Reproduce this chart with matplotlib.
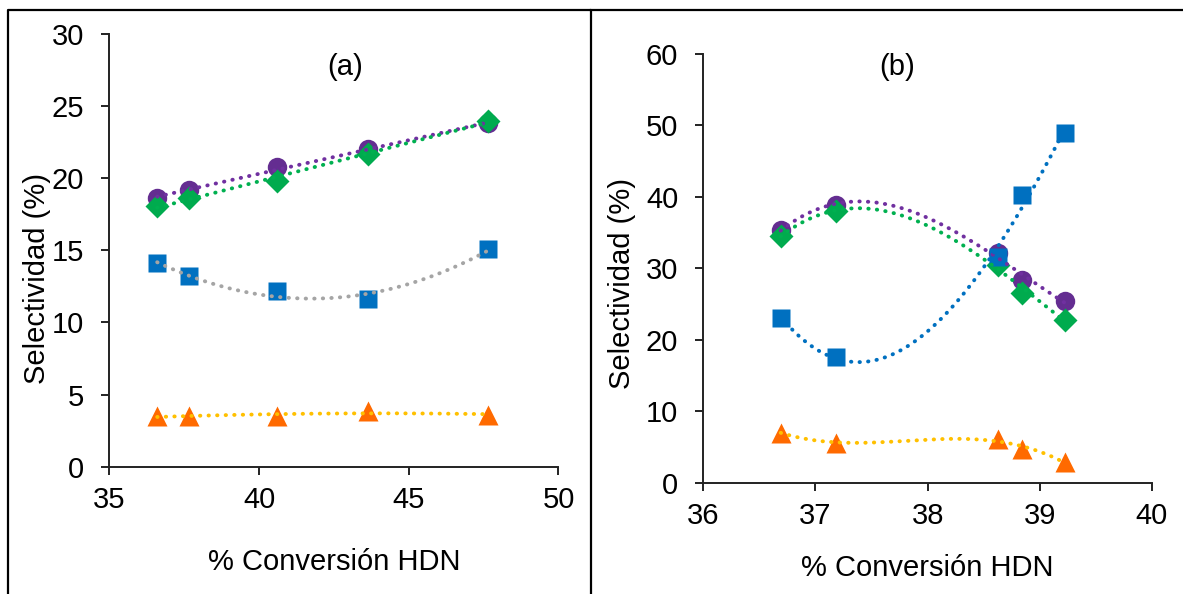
import numpy as np
import matplotlib
matplotlib.use("Agg")
import matplotlib.pyplot as plt
from matplotlib.lines import Line2D

plt.rcParams['font.family'] = ['Liberation Sans', 'DejaVu Sans']

# panel (a)
conv_a = [36.6, 37.65, 40.6, 43.65, 47.65]
circ_a = [18.6, 19.2, 20.8, 22.0, 23.8]
diam_a = [18.1, 18.6, 19.8, 21.7, 24.0]
sq_a = [14.1, 13.2, 12.2, 11.6, 15.1]
tri_a = [3.5, 3.5, 3.5, 3.85, 3.6]

# panel (b)
conv_b = [36.69, 37.18, 38.63, 38.84, 39.22]
circ_b = [35.3, 38.9, 32.1, 28.3, 25.4]
diam_b = [34.5, 38.0, 30.4, 26.6, 22.8]
sq_b = [23.1, 17.6, 31.6, 40.3, 48.9]
tri_b = [7.0, 5.6, 6.1, 4.7, 2.9]

purple = '#642D91'
green = '#00AB4E'
blue = '#0070C0'
orange = '#FF6A00'
FS = 21

W, H = 1183, 594
fig = plt.figure(figsize=(W / 100, H / 100), dpi=100)


def px(x0, y0, x1, y1):
    return [x0 / W, 1 - y1 / H, (x1 - x0) / W, (y1 - y0) / H]


ax1 = fig.add_axes(px(109.3, 34, 558.5, 466.7))
ax2 = fig.add_axes(px(703.3, 53.7, 1152, 482.7))


def trend(ax, x, y, deg, color):
    c = np.polyfit(x, y, deg)
    xs = np.linspace(min(x), max(x), 200)
    ax.plot(xs, np.polyval(c, xs), color=color, lw=2.8,
            linestyle=(0, (0.1, 2.1)), dash_capstyle='round', zorder=4)


def series(ax, x, ys, trends):
    circ, diam, sq, tri = ys
    ax.plot(x, circ, 'o', color=purple, ms=14, mec='none', zorder=3)
    ax.plot(x, diam, 'D', color=green, ms=12, mec='none', zorder=3)
    ax.plot(x, sq, 's', color=blue, ms=13.5, mec='none', zorder=3)
    ax.plot(x, tri, '^', color=orange, ms=15, mec='none', zorder=3)
    for y, (deg, col) in zip(ys, trends):
        trend(ax, x, y, deg, col)


series(ax1, conv_a, (circ_a, diam_a, sq_a, tri_a),
       [(1, '#7030A0'), (1, '#00B050'), (2, '#A5A5A5'), (2, '#FFC000')])
series(ax2, conv_b, (circ_b, diam_b, sq_b, tri_b),
       [(3, '#7030A0'), (3, '#00B050'), (3, blue), (3, '#FFC000')])

ax1.set_xlim(35, 50)
ax1.set_ylim(0, 30)
ax1.set_xticks([35, 40, 45, 50])
ax1.set_yticks(range(0, 31, 5))
ax2.set_xlim(36, 40)
ax2.set_ylim(0, 60)
ax2.set_xticks([36, 37, 38, 39, 40])
ax2.set_yticks(range(0, 61, 10))

for ax in (ax1, ax2):
    for s in ('top', 'right'):
        ax.spines[s].set_visible(False)
    for s in ('left', 'bottom'):
        ax.spines[s].set_linewidth(1.4)
        ax.spines[s].set_color('#222222')
    ax.tick_params(labelsize=FS, length=6, width=1.4, color='#222222')
    ax.tick_params(axis='y', pad=12)
    ax.tick_params(axis='x', pad=8)
    ax.set_xlabel('% Conversión HDN', fontsize=FS)
    ax.set_ylabel('Selectividad (%)', fontsize=FS)
    ax.xaxis.label.set_va('center')
    ax.yaxis.label.set_va('center')

ax1.xaxis.set_label_coords(0.5, -0.22)
ax1.yaxis.set_label_coords(-0.161, 0.434)
ax2.xaxis.set_label_coords(0.5, -0.2)
ax2.yaxis.set_label_coords(-0.181, 0.465)

fig.text(345 / W, 1 - 67 / H, '(a)', fontsize=FS, ha='center', va='center')
fig.text(897 / W, 1 - 67 / H, '(b)', fontsize=FS, ha='center', va='center')

# panel frames
for xs, ys in [([8, 8, 591, 591], [600, 10, 10, 600]),
               ([591, 1190], [10, 10])]:
    fig.add_artist(Line2D([x / W for x in xs], [1 - y / H for y in ys],
                          color='black', lw=1.6, transform=fig.transFigure))

fig.savefig('out.png', dpi=100)
